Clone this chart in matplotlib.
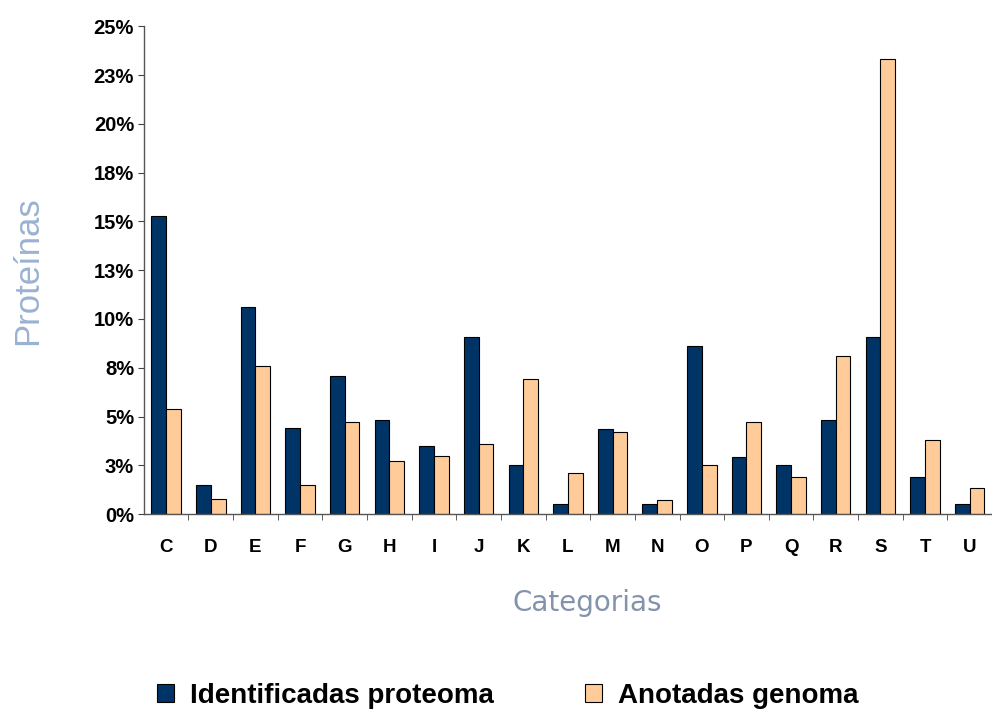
import matplotlib
matplotlib.use("Agg")
import matplotlib.pyplot as plt
from matplotlib.patches import Patch
import numpy as np

categorias = ["C", "D", "E", "F", "G", "H", "I", "J", "K", "L",
              "M", "N", "O", "P", "Q", "R", "S", "T", "U"]
identificadas = [15.3, 1.5, 10.6, 4.4, 7.1, 4.8, 3.5, 9.1, 2.5, 0.5,
                 4.35, 0.5, 8.6, 2.9, 2.5, 4.8, 9.1, 1.9, 0.5]
anotadas = [5.4, 0.75, 7.6, 1.5, 4.7, 2.7, 3.0, 3.6, 6.9, 2.1,
            4.2, 0.7, 2.5, 4.7, 1.9, 8.1, 23.3, 3.8, 1.35]
yticks = [0, 2.5, 5, 7.5, 10, 12.5, 15, 17.5, 20, 22.5, 25]
ytick_labels = ["0%", "3%", "5%", "8%", "10%", "13%", "15%",
                "18%", "20%", "23%", "25%"]

navy = "#003366"
peach = "#ffcc99"

fig = plt.figure(figsize=(9.92, 7.11), dpi=100)
ax = fig.add_axes([0.145, 0.277, 0.855, 0.686])

x = np.arange(len(categorias))
bw = 0.33
ax.bar(x - bw / 2, identificadas, bw, color=navy, edgecolor="black",
       linewidth=0.8)
ax.bar(x + bw / 2, anotadas, bw, color=peach, edgecolor="black",
       linewidth=0.8)

ax.set_xlim(-0.5, 18.26)
ax.set_ylim(0, 25)
ax.set_yticks(yticks)
ax.set_yticklabels(ytick_labels, fontsize=14.5, fontweight="bold",
                   family="Liberation Sans")
ax.set_xticks(x)
ax.set_xticklabels(categorias, fontsize=13.5, fontweight="bold",
                   family="Liberation Sans")
ax.set_xticks(np.arange(len(categorias)) + 0.5, minor=True)
ax.tick_params(axis="x", which="major", length=0, pad=18)
ax.tick_params(axis="x", which="minor", length=4, color="#444444")
ax.tick_params(axis="y", length=4, color="#444444", pad=3)

for s in ["top", "right"]:
    ax.spines[s].set_visible(False)
for s in ["left", "bottom"]:
    ax.spines[s].set_color("#555555")
    ax.spines[s].set_linewidth(1.0)

ax.set_ylabel("Proteínas", fontsize=25, color="#9ab2d2",
              family="Liberation Sans", labelpad=36)

fig.text(587 / 992, 1 - 603 / 711, "Categorias", ha="center",
         va="center", fontsize=20, color="#8393ab", family="DejaVu Sans")

leg_prop = {"family": "Liberation Sans", "weight": "bold", "size": 20}
entries = [("Identificadas proteoma", navy, 157),
           ("Anotadas genoma", peach, 585)]
for label, col, px in entries:
    fig.legend(handles=[Patch(facecolor=col, edgecolor="black", linewidth=0.8)],
               labels=[label], loc="center left",
               bbox_to_anchor=(px / 992, 0.021), borderaxespad=0,
               borderpad=0, frameon=False, handlelength=0.6,
               handleheight=0.6, handletextpad=0.6, prop=leg_prop)

fig.savefig("out.png", dpi=100)
